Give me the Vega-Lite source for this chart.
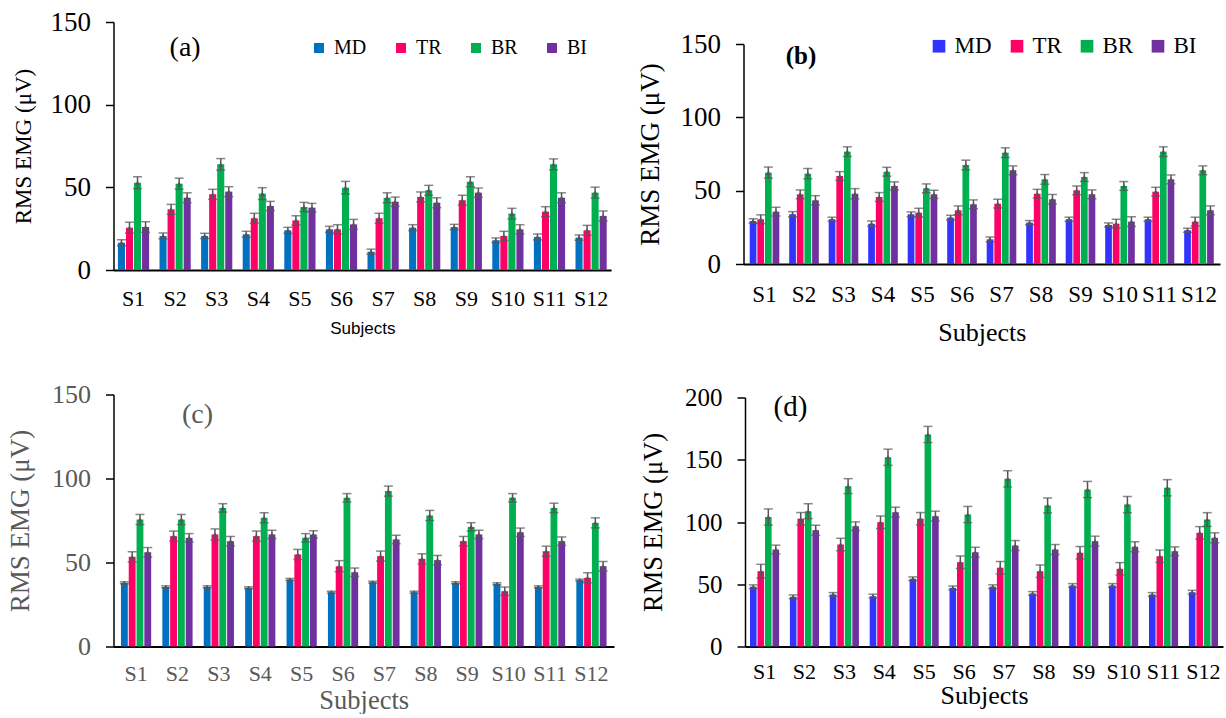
{
"$schema": "https://vega.github.io/schema/vega-lite/v6.json",
"background": "white",
"padding": {"left": 6.5, "top": 8, "right": 0, "bottom": 0},
"datasets": {
"a": [
{"s":"S1","m":"MD","v":16.5,"e":1.8},{"s":"S1","m":"TR","v":25.6,"e":3.3},{"s":"S1","m":"BR","v":52.8,"e":3.6},{"s":"S1","m":"BI","v":26,"e":3.2},
{"s":"S2","m":"MD","v":20.6,"e":1.8},{"s":"S2","m":"TR","v":36.7,"e":3},{"s":"S2","m":"BR","v":52.2,"e":3.3},{"s":"S2","m":"BI","v":43.7,"e":3},
{"s":"S3","m":"MD","v":20.6,"e":1.6},{"s":"S3","m":"TR","v":45.8,"e":3},{"s":"S3","m":"BR","v":63.9,"e":3.5},{"s":"S3","m":"BI","v":47.4,"e":3},
{"s":"S4","m":"MD","v":21.6,"e":1.8},{"s":"S4","m":"TR","v":31.3,"e":3},{"s":"S4","m":"BR","v":46.2,"e":3.6},{"s":"S4","m":"BI","v":38.7,"e":2.8},
{"s":"S5","m":"MD","v":24,"e":1.8},{"s":"S5","m":"TR","v":30,"e":2.8},{"s":"S5","m":"BR","v":38.1,"e":2.8},{"s":"S5","m":"BI","v":37.7,"e":2.6},
{"s":"S6","m":"MD","v":24.6,"e":1.8},{"s":"S6","m":"TR","v":24.6,"e":2.8},{"s":"S6","m":"BR","v":49.8,"e":3.8},{"s":"S6","m":"BI","v":27.6,"e":3},
{"s":"S7","m":"MD","v":11.1,"e":1.5},{"s":"S7","m":"TR","v":31.3,"e":3},{"s":"S7","m":"BR","v":43.7,"e":3},{"s":"S7","m":"BI","v":41.3,"e":2.8},
{"s":"S8","m":"MD","v":25.6,"e":1.8},{"s":"S8","m":"TR","v":44.2,"e":3},{"s":"S8","m":"BR","v":48.2,"e":3},{"s":"S8","m":"BI","v":40.7,"e":3},
{"s":"S9","m":"MD","v":26,"e":1.6},{"s":"S9","m":"TR","v":42.2,"e":3},{"s":"S9","m":"BR","v":53.4,"e":3},{"s":"S9","m":"BI","v":46.8,"e":2.8},
{"s":"S10","m":"MD","v":18,"e":1.4},{"s":"S10","m":"TR","v":20.6,"e":2.8},{"s":"S10","m":"BR","v":34.1,"e":3.2},{"s":"S10","m":"BI","v":24.6,"e":2.8},
{"s":"S11","m":"MD","v":20,"e":1.8},{"s":"S11","m":"TR","v":35.3,"e":3},{"s":"S11","m":"BR","v":63.9,"e":3.3},{"s":"S11","m":"BI","v":43.7,"e":3},
{"s":"S12","m":"MD","v":19.6,"e":1.6},{"s":"S12","m":"TR","v":24,"e":3},{"s":"S12","m":"BR","v":46.8,"e":3.3},{"s":"S12","m":"BI","v":32.7,"e":3}
],
"b": [
{"s":"S1","m":"MD","v":29.3,"e":1.5},{"s":"S1","m":"TR","v":30.5,"e":3},{"s":"S1","m":"BR","v":62.3,"e":3.8},{"s":"S1","m":"BI","v":35.7,"e":3},
{"s":"S2","m":"MD","v":33.9,"e":1.8},{"s":"S2","m":"TR","v":47.5,"e":3},{"s":"S2","m":"BR","v":61.6,"e":3.5},{"s":"S2","m":"BI","v":43.4,"e":3.2},
{"s":"S3","m":"MD","v":30.5,"e":1.4},{"s":"S3","m":"TR","v":60,"e":3},{"s":"S3","m":"BR","v":76.6,"e":3.3},{"s":"S3","m":"BI","v":47.9,"e":3.5},
{"s":"S4","m":"MD","v":27.5,"e":1.8},{"s":"S4","m":"TR","v":45.7,"e":3},{"s":"S4","m":"BR","v":62.9,"e":3},{"s":"S4","m":"BI","v":53.2,"e":2.8},
{"s":"S5","m":"MD","v":33.9,"e":1.6},{"s":"S5","m":"TR","v":35,"e":3},{"s":"S5","m":"BR","v":51.6,"e":3},{"s":"S5","m":"BI","v":47.5,"e":2.8},
{"s":"S6","m":"MD","v":31.6,"e":1.6},{"s":"S6","m":"TR","v":36.6,"e":3},{"s":"S6","m":"BR","v":67.5,"e":3.3},{"s":"S6","m":"BI","v":40.7,"e":3},
{"s":"S7","m":"MD","v":16.8,"e":1.6},{"s":"S7","m":"TR","v":41.1,"e":3},{"s":"S7","m":"BR","v":75.9,"e":3.3},{"s":"S7","m":"BI","v":63.9,"e":3},
{"s":"S8","m":"MD","v":28.2,"e":1.4},{"s":"S8","m":"TR","v":47.9,"e":3},{"s":"S8","m":"BR","v":57.7,"e":3.3},{"s":"S8","m":"BI","v":44.1,"e":3.3},
{"s":"S9","m":"MD","v":30.5,"e":1.4},{"s":"S9","m":"TR","v":50.2,"e":3},{"s":"S9","m":"BR","v":59.3,"e":3},{"s":"S9","m":"BI","v":47.5,"e":3},
{"s":"S10","m":"MD","v":26.6,"e":1.4},{"s":"S10","m":"TR","v":27.5,"e":3},{"s":"S10","m":"BR","v":53.2,"e":3},{"s":"S10","m":"BI","v":28.9,"e":3.3},
{"s":"S11","m":"MD","v":30.5,"e":1.4},{"s":"S11","m":"TR","v":49.3,"e":3},{"s":"S11","m":"BR","v":76.6,"e":3.3},{"s":"S11","m":"BI","v":57.7,"e":3},
{"s":"S12","m":"MD","v":23,"e":1.4},{"s":"S12","m":"TR","v":28.9,"e":3},{"s":"S12","m":"BR","v":63.9,"e":3},{"s":"S12","m":"BI","v":36.6,"e":3}
],
"c": [
{"s":"S1","m":"MD","v":37.9,"e":0.6},{"s":"S1","m":"TR","v":53.4,"e":3},{"s":"S1","m":"BR","v":75.6,"e":3},{"s":"S1","m":"BI","v":56.1,"e":2.8},
{"s":"S2","m":"MD","v":35.5,"e":0.6},{"s":"S2","m":"TR","v":65.7,"e":3},{"s":"S2","m":"BR","v":75.6,"e":3},{"s":"S2","m":"BI","v":64.7,"e":2.5},
{"s":"S3","m":"MD","v":35.5,"e":0.6},{"s":"S3","m":"TR","v":66.7,"e":3.3},{"s":"S3","m":"BR","v":82.5,"e":2.5},{"s":"S3","m":"BI","v":62.7,"e":2.8},
{"s":"S4","m":"MD","v":34.9,"e":0.6},{"s":"S4","m":"TR","v":65.7,"e":3},{"s":"S4","m":"BR","v":76.6,"e":3},{"s":"S4","m":"BI","v":66.7,"e":2.5},
{"s":"S5","m":"MD","v":39.9,"e":0.6},{"s":"S5","m":"TR","v":54.8,"e":3},{"s":"S5","m":"BR","v":64.7,"e":2.5},{"s":"S5","m":"BI","v":66.7,"e":2.2},
{"s":"S6","m":"MD","v":32.3,"e":0.6},{"s":"S6","m":"TR","v":47.8,"e":3.3},{"s":"S6","m":"BR","v":88.5,"e":2.5},{"s":"S6","m":"BI","v":44.2,"e":2.5},
{"s":"S7","m":"MD","v":38.3,"e":0.6},{"s":"S7","m":"TR","v":53.8,"e":3},{"s":"S7","m":"BR","v":92.5,"e":3},{"s":"S7","m":"BI","v":63.7,"e":2.5},
{"s":"S8","m":"MD","v":32.3,"e":0.6},{"s":"S8","m":"TR","v":52.2,"e":3},{"s":"S8","m":"BR","v":78,"e":3},{"s":"S8","m":"BI","v":51.4,"e":2.8},
{"s":"S9","m":"MD","v":37.9,"e":0.6},{"s":"S9","m":"TR","v":62.7,"e":2.8},{"s":"S9","m":"BR","v":71.2,"e":2.5},{"s":"S9","m":"BI","v":66.7,"e":2.5},
{"s":"S10","m":"MD","v":37.3,"e":0.6},{"s":"S10","m":"TR","v":32.9,"e":2.5},{"s":"S10","m":"BR","v":88.5,"e":2.5},{"s":"S10","m":"BI","v":68,"e":2.5},
{"s":"S11","m":"MD","v":35.5,"e":0.6},{"s":"S11","m":"TR","v":56.7,"e":3},{"s":"S11","m":"BR","v":82.5,"e":2.8},{"s":"S11","m":"BI","v":62.7,"e":2.5},
{"s":"S12","m":"MD","v":39.5,"e":0.6},{"s":"S12","m":"TR","v":40.9,"e":3},{"s":"S12","m":"BR","v":73.6,"e":3},{"s":"S12","m":"BI","v":47.8,"e":2.8}
],
"d": [
{"s":"S1","m":"MD","v":48,"e":1.5},{"s":"S1","m":"TR","v":60.5,"e":5.5},{"s":"S1","m":"BR","v":104,"e":6.5},{"s":"S1","m":"BI","v":77.9,"e":3.5},
{"s":"S2","m":"MD","v":39.9,"e":1.5},{"s":"S2","m":"TR","v":102.6,"e":5},{"s":"S2","m":"BR","v":108.7,"e":6},{"s":"S2","m":"BI","v":93.4,"e":4},
{"s":"S3","m":"MD","v":41.8,"e":1.5},{"s":"S3","m":"TR","v":81.9,"e":5},{"s":"S3","m":"BR","v":128.8,"e":6},{"s":"S3","m":"BI","v":96.6,"e":3.5},
{"s":"S4","m":"MD","v":40.4,"e":1.5},{"s":"S4","m":"TR","v":99.8,"e":5},{"s":"S4","m":"BR","v":152,"e":6.5},{"s":"S4","m":"BI","v":107.9,"e":4},
{"s":"S5","m":"MD","v":54.4,"e":1.5},{"s":"S5","m":"TR","v":102.6,"e":5},{"s":"S5","m":"BR","v":170.3,"e":6.5},{"s":"S5","m":"BI","v":104.7,"e":4},
{"s":"S6","m":"MD","v":47.1,"e":1.5},{"s":"S6","m":"TR","v":67.7,"e":5},{"s":"S6","m":"BR","v":106,"e":6.5},{"s":"S6","m":"BI","v":75.7,"e":4},
{"s":"S7","m":"MD","v":48,"e":1.5},{"s":"S7","m":"TR","v":63.2,"e":5},{"s":"S7","m":"BR","v":134.7,"e":6.5},{"s":"S7","m":"BI","v":81.1,"e":4},
{"s":"S8","m":"MD","v":42.6,"e":1.5},{"s":"S8","m":"TR","v":60.5,"e":5},{"s":"S8","m":"BR","v":113.3,"e":6},{"s":"S8","m":"BI","v":77.9,"e":4},
{"s":"S9","m":"MD","v":49,"e":1.5},{"s":"S9","m":"TR","v":75.3,"e":5},{"s":"S9","m":"BR","v":126.1,"e":6.5},{"s":"S9","m":"BI","v":84.6,"e":4},
{"s":"S10","m":"MD","v":49,"e":1.5},{"s":"S10","m":"TR","v":62.4,"e":5},{"s":"S10","m":"BR","v":114,"e":6.5},{"s":"S10","m":"BI","v":80.1,"e":4},
{"s":"S11","m":"MD","v":41.8,"e":1.5},{"s":"S11","m":"TR","v":72.5,"e":5},{"s":"S11","m":"BR","v":127.5,"e":6.5},{"s":"S11","m":"BI","v":76.5,"e":3.5},
{"s":"S12","m":"MD","v":43.6,"e":1.5},{"s":"S12","m":"TR","v":91.3,"e":5},{"s":"S12","m":"BR","v":102,"e":5.5},{"s":"S12","m":"BI","v":87.3,"e":4}
]
},
"vconcat": [
{
"hconcat": [
{
"width": 497.6, "height": 248,
"layer": [
{"data": {"name": "a"}, "mark": {"type": "bar"}, "encoding": {
"x": {"field": "s", "type": "nominal", "title": "Subjects", "sort": ["S1","S2","S3","S4","S5","S6","S7","S8","S9","S10","S11","S12"], "scale": {"paddingInner": 0.25, "paddingOuter": 0.106}, "axis": {"titleFont": "Liberation Sans", "titleFontSize": 17, "titlePadding": 11, "labelFontSize": 22, "labelPadding": 18}},
"y": {"field": "v", "type": "quantitative", "title": "RMS EMG (μV)", "scale": {"domain": [0, 150], "nice": false}, "axis": {"titleFontSize": 23, "titlePadding": 14.5, "labelFontSize": 27, "values": [0, 50, 100, 150]}},
"xOffset": {"field": "m", "type": "nominal", "sort": ["MD","TR","BR","BI"], "scale": {"paddingInner": 0.12}},
"color": {"field": "m", "type": "nominal", "sort": ["MD","TR","BR","BI"], "scale": {"domain": ["MD","TR","BR","BI"], "range": ["#0070C0","#FF0066","#00B050","#7030A0"]}, "legend": {"orient": "none", "legendX": 195.5, "legendY": 16, "direction": "horizontal", "title": null, "symbolType": "square", "symbolSize": 100, "labelFontSize": 20, "labelFont": "Liberation Serif", "columnPadding": 24, "labelOffset": 5, "padding": 0}}}},
{"data": {"name": "a"}, "mark": {"type": "errorbar", "color": "#555555", "ticks": {"size": 9, "thickness": 1.5}, "rule": {"strokeWidth": 1.5}}, "encoding": {
"x": {"field": "s", "type": "nominal", "title": "Subjects", "sort": ["S1","S2","S3","S4","S5","S6","S7","S8","S9","S10","S11","S12"]},
"y": {"field": "v", "type": "quantitative", "title": "RMS EMG (μV)"},
"yError": {"field": "e"},
"xOffset": {"field": "m", "type": "nominal", "sort": ["MD","TR","BR","BI"]}}},
{"data": {"name": "a"}, "mark": {"type": "point", "shape": "triangle-up", "filled": true, "size": 22, "color": "#555555", "opacity": 1}, "encoding": {
"x": {"field": "s", "type": "nominal", "title": "Subjects", "sort": ["S1","S2","S3","S4","S5","S6","S7","S8","S9","S10","S11","S12"]},
"y": {"field": "v", "type": "quantitative", "title": "RMS EMG (μV)"},
"xOffset": {"field": "m", "type": "nominal", "sort": ["MD","TR","BR","BI"]}}},
{"data": {"values": [{"t": "(a)", "s": "S2", "v": 134}]}, "mark": {"type": "text", "fontSize": 28, "dx": 10, "color": "#000000"}, "encoding": {
"x": {"field": "s", "type": "nominal", "title": "Subjects", "sort": ["S1","S2","S3","S4","S5","S6","S7","S8","S9","S10","S11","S12"]},
"y": {"field": "v", "type": "quantitative", "title": "RMS EMG (μV)"},
"text": {"field": "t"}}}
]
},
{
"width": 476.5, "height": 242,
"layer": [
{"data": {"name": "b"}, "mark": {"type": "bar"}, "encoding": {
"x": {"field": "s", "type": "nominal", "title": "Subjects", "sort": ["S1","S2","S3","S4","S5","S6","S7","S8","S9","S10","S11","S12"], "scale": {"paddingInner": 0.25, "paddingOuter": 0.157}, "axis": {"titleFontSize": 26, "titlePadding": 13, "labelFontSize": 23, "labelPadding": 19}},
"y": {"field": "v", "type": "quantitative", "title": "RMS EMG (μV)", "scale": {"domain": [0, 150], "range": [242, 22], "nice": false}, "axis": {"titleFontSize": 27, "titlePadding": 15.5, "labelFontSize": 27, "values": [0, 50, 100, 150]}},
"xOffset": {"field": "m", "type": "nominal", "sort": ["MD","TR","BR","BI"], "scale": {"paddingInner": 0.12}},
"color": {"field": "m", "type": "nominal", "sort": ["MD","TR","BR","BI"], "scale": {"domain": ["MD","TR","BR","BI"], "range": ["#3333FF","#FF0066","#00B050","#7030A0"]}, "legend": {"orient": "none", "legendX": 184, "legendY": 12.5, "direction": "horizontal", "title": null, "symbolType": "square", "symbolSize": 160, "labelFontSize": 23, "labelFont": "Liberation Serif", "columnPadding": 13, "labelOffset": 4, "padding": 0}}}},
{"data": {"name": "b"}, "mark": {"type": "errorbar", "color": "#555555", "ticks": {"size": 9, "thickness": 1.5}, "rule": {"strokeWidth": 1.5}}, "encoding": {
"x": {"field": "s", "type": "nominal", "title": "Subjects", "sort": ["S1","S2","S3","S4","S5","S6","S7","S8","S9","S10","S11","S12"]},
"y": {"field": "v", "type": "quantitative", "title": "RMS EMG (μV)"},
"yError": {"field": "e"},
"xOffset": {"field": "m", "type": "nominal", "sort": ["MD","TR","BR","BI"]}}},
{"data": {"name": "b"}, "mark": {"type": "point", "shape": "triangle-up", "filled": true, "size": 22, "color": "#555555", "opacity": 1}, "encoding": {
"x": {"field": "s", "type": "nominal", "title": "Subjects", "sort": ["S1","S2","S3","S4","S5","S6","S7","S8","S9","S10","S11","S12"]},
"y": {"field": "v", "type": "quantitative", "title": "RMS EMG (μV)"},
"xOffset": {"field": "m", "type": "nominal", "sort": ["MD","TR","BR","BI"]}}},
{"data": {"values": [{"t": "(b)", "s": "S2", "v": 141.8}]}, "mark": {"type": "text", "fontSize": 25, "fontWeight": "bold", "dx": -3, "color": "#000000"}, "encoding": {
"x": {"field": "s", "type": "nominal", "title": "Subjects", "sort": ["S1","S2","S3","S4","S5","S6","S7","S8","S9","S10","S11","S12"]},
"y": {"field": "v", "type": "quantitative", "title": "RMS EMG (μV)"},
"text": {"field": "t"}}}
]
}
],
"spacing": 25,
"resolve": {"scale": {"x": "independent", "y": "independent", "xOffset": "independent", "color": "independent"}, "legend": {"color": "independent"}}
},
{
"hconcat": [
{
"width": 500.5, "height": 252,
"layer": [
{"data": {"name": "c"}, "mark": {"type": "bar"}, "encoding": {
"x": {"field": "s", "type": "nominal", "title": "Subjects", "sort": ["S1","S2","S3","S4","S5","S6","S7","S8","S9","S10","S11","S12"], "scale": {"paddingInner": 0.27, "paddingOuter": 0.18}, "axis": {"titleFontSize": 26.5, "titlePadding": 3, "labelFontSize": 22, "labelPadding": 17, "labelColor": "#595959", "titleColor": "#595959"}},
"y": {"field": "v", "type": "quantitative", "title": "RMS EMG (μV)", "scale": {"domain": [0, 150], "nice": false}, "axis": {"titleFontSize": 27, "titlePadding": 17, "labelFontSize": 26, "values": [0, 50, 100, 150], "labelColor": "#595959", "titleColor": "#595959"}},
"xOffset": {"field": "m", "type": "nominal", "sort": ["MD","TR","BR","BI"], "scale": {"paddingInner": 0.12}},
"color": {"field": "m", "type": "nominal", "sort": ["MD","TR","BR","BI"], "scale": {"domain": ["MD","TR","BR","BI"], "range": ["#0070C0","#FF0066","#00B050","#7030A0"]}, "legend": null}}},
{"data": {"name": "c"}, "mark": {"type": "errorbar", "color": "#555555", "ticks": {"size": 9, "thickness": 1.5}, "rule": {"strokeWidth": 1.5}}, "encoding": {
"x": {"field": "s", "type": "nominal", "title": "Subjects", "sort": ["S1","S2","S3","S4","S5","S6","S7","S8","S9","S10","S11","S12"]},
"y": {"field": "v", "type": "quantitative", "title": "RMS EMG (μV)"},
"yError": {"field": "e"},
"xOffset": {"field": "m", "type": "nominal", "sort": ["MD","TR","BR","BI"]}}},
{"data": {"name": "c"}, "mark": {"type": "point", "shape": "triangle-up", "filled": true, "size": 22, "color": "#555555", "opacity": 1}, "encoding": {
"x": {"field": "s", "type": "nominal", "title": "Subjects", "sort": ["S1","S2","S3","S4","S5","S6","S7","S8","S9","S10","S11","S12"]},
"y": {"field": "v", "type": "quantitative", "title": "RMS EMG (μV)"},
"xOffset": {"field": "m", "type": "nominal", "sort": ["MD","TR","BR","BI"]}}},
{"data": {"values": [{"t": "(c)", "s": "S2", "v": 138}]}, "mark": {"type": "text", "fontSize": 28, "dx": 20, "color": "#595959"}, "encoding": {
"x": {"field": "s", "type": "nominal", "title": "Subjects", "sort": ["S1","S2","S3","S4","S5","S6","S7","S8","S9","S10","S11","S12"]},
"y": {"field": "v", "type": "quantitative", "title": "RMS EMG (μV)"},
"text": {"field": "t"}}}
]
},
{
"width": 478, "height": 252,
"layer": [
{"data": {"name": "d"}, "mark": {"type": "bar"}, "encoding": {
"x": {"field": "s", "type": "nominal", "title": "Subjects", "sort": ["S1","S2","S3","S4","S5","S6","S7","S8","S9","S10","S11","S12"], "scale": {"paddingInner": 0.27, "paddingOuter": 0.125}, "axis": {"titleFontSize": 26, "titlePadding": 0, "labelFontSize": 22, "labelPadding": 15}},
"y": {"field": "v", "type": "quantitative", "title": "RMS EMG (μV)", "scale": {"domain": [0, 200], "range": [252, 3], "nice": false}, "axis": {"titleFontSize": 26.5, "titlePadding": 17.5, "labelFontSize": 25, "values": [0, 50, 100, 150, 200]}},
"xOffset": {"field": "m", "type": "nominal", "sort": ["MD","TR","BR","BI"], "scale": {"paddingInner": 0.12}},
"color": {"field": "m", "type": "nominal", "sort": ["MD","TR","BR","BI"], "scale": {"domain": ["MD","TR","BR","BI"], "range": ["#3333FF","#FF0066","#00B050","#7030A0"]}, "legend": null}}},
{"data": {"name": "d"}, "mark": {"type": "errorbar", "color": "#555555", "ticks": {"size": 9, "thickness": 1.5}, "rule": {"strokeWidth": 1.5}}, "encoding": {
"x": {"field": "s", "type": "nominal", "title": "Subjects", "sort": ["S1","S2","S3","S4","S5","S6","S7","S8","S9","S10","S11","S12"]},
"y": {"field": "v", "type": "quantitative", "title": "RMS EMG (μV)"},
"yError": {"field": "e"},
"xOffset": {"field": "m", "type": "nominal", "sort": ["MD","TR","BR","BI"]}}},
{"data": {"name": "d"}, "mark": {"type": "point", "shape": "triangle-up", "filled": true, "size": 22, "color": "#555555", "opacity": 1}, "encoding": {
"x": {"field": "s", "type": "nominal", "title": "Subjects", "sort": ["S1","S2","S3","S4","S5","S6","S7","S8","S9","S10","S11","S12"]},
"y": {"field": "v", "type": "quantitative", "title": "RMS EMG (μV)"},
"xOffset": {"field": "m", "type": "nominal", "sort": ["MD","TR","BR","BI"]}}},
{"data": {"values": [{"t": "(d)", "s": "S2", "v": 192}]}, "mark": {"type": "text", "fontSize": 29, "dx": -14, "color": "#000000"}, "encoding": {
"x": {"field": "s", "type": "nominal", "title": "Subjects", "sort": ["S1","S2","S3","S4","S5","S6","S7","S8","S9","S10","S11","S12"]},
"y": {"field": "v", "type": "quantitative", "title": "RMS EMG (μV)"},
"text": {"field": "t"}}}
]
}
],
"spacing": 25.5,
"resolve": {"scale": {"x": "independent", "y": "independent", "xOffset": "independent", "color": "independent"}, "legend": {"color": "independent"}}
}
],
"spacing": 36.5,
"resolve": {"scale": {"x": "independent", "y": "independent", "xOffset": "independent", "color": "independent"}, "legend": {"color": "independent"}},
"config": {
"view": {"stroke": null},
"font": "Liberation Serif",
"axis": {"domainColor": "#000000", "tickColor": "#000000", "labelColor": "#000000", "titleColor": "#000000", "titleFontWeight": "normal", "grid": false, "labelFont": "Liberation Serif", "titleFont": "Liberation Serif"},
"axisX": {"ticks": false, "labelAngle": 0, "domainWidth": 2},
"axisY": {"tickSize": 8, "labelPadding": 15, "domainWidth": 1.5, "tickWidth": 1.5}
}
}
